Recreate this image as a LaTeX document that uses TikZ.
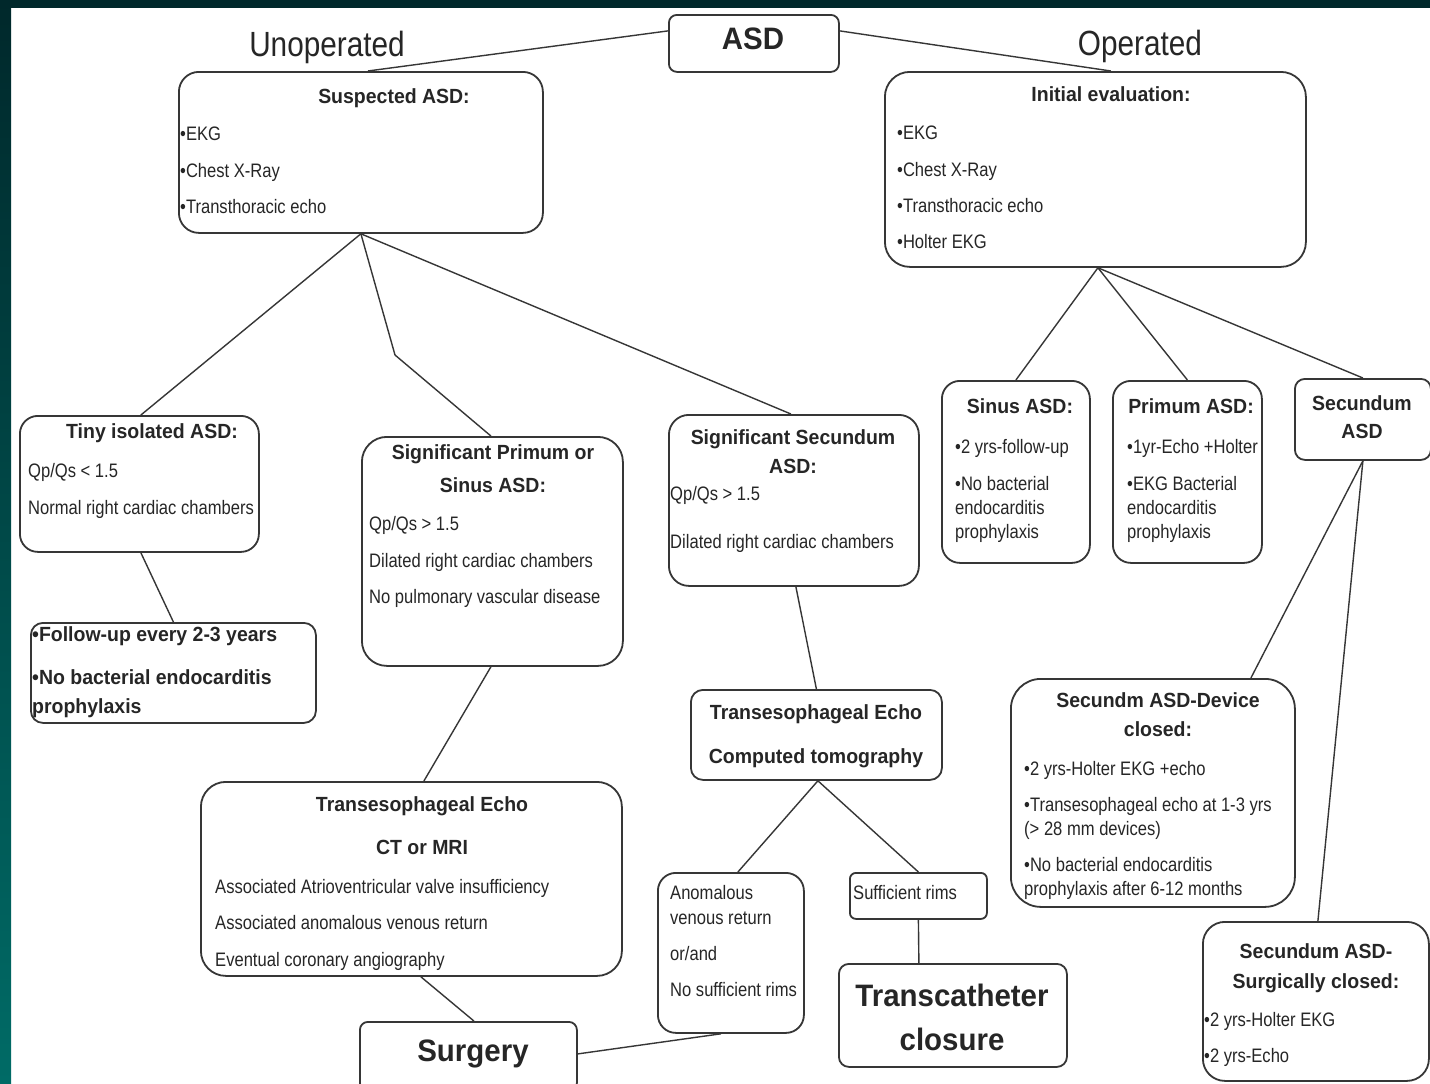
\documentclass[tikz,border=0pt]{standalone}
\usepackage{fontspec}
\newfontfamily\rfont{Liberation Sans}[FakeStretch=0.85]
\newfontfamily\bfont{Liberation Sans}[FakeStretch=0.95]
\usetikzlibrary{calc}
\definecolor{tc}{HTML}{262626}
\definecolor{lc}{HTML}{363636}
\definecolor{darkbg}{HTML}{00282B}
\definecolor{tealbg}{HTML}{006B66}
\begin{document}
\begin{tikzpicture}[x=1pt,y=-1pt,
 rbox/.style={draw=lc, line width=1.8pt, rounded corners=#1, inner sep=0pt, anchor=north west},
 rbox/.default=16pt,
 t/.style={text=tc, inner sep=0pt, font=\rfont\fontsize{19.5}{22}\selectfont, text height=14pt, text depth=0pt, anchor=west},
 h/.style={text=tc, inner sep=0pt, font=\bfont\bfseries\fontsize{20.5}{24}\selectfont, text height=14.7pt, text depth=0pt, anchor=center},
 hb/.style={h, anchor=west},
 big/.style={text=tc, inner sep=0pt, font=\bfont\bfseries\fontsize{31}{36}\selectfont, text height=22.2pt, text depth=0pt, anchor=center},
 side/.style={text=tc, inner sep=0pt, font=\rfont\fontsize{35}{40}\selectfont, text height=25pt, text depth=0pt, anchor=center},
 con/.style={draw=lc, line width=1.4pt}
]
\useasboundingbox (0,0) rectangle (1430,1084);
\clip (0,0) rectangle (1430,1084);
\fill[white] (0,0) rectangle (1430,1084);
\shade[top color=darkbg, bottom color=tealbg] (0,0) rectangle (11,1084);
\fill[darkbg] (0,0) rectangle (1430,8);

% ---------- top
\node[rbox=8pt, minimum width=170pt, minimum height=57pt] (asd) at (668,14) {};
\node[big] (asdT) at (753,38) {ASD};
\node[side] (unop) at (327,44) {Unoperated};
\node[side] (op) at (1140,43) {Operated};

% ---------- Suspected ASD
\node[rbox=20pt, minimum width=364pt, minimum height=161pt] (susp) at (178,71) {};
\node[h] (suspT) at (394,96) {Suspected ASD:};
\node[t] (susp1) at (180,133) {•EKG};
\node[t] (susp2) at (180,170) {•Chest X-Ray};
\node[t] (susp3) at (180,206) {•Transthoracic echo};

% ---------- Initial evaluation
\node[rbox=25pt, minimum width=421pt, minimum height=195pt] (init) at (884,71) {};
\node[h] (initT) at (1111,94) {Initial evaluation:};
\node[t] (init1) at (897,132) {•EKG};
\node[t] (init2) at (897,169) {•Chest X-Ray};
\node[t] (init3) at (897,205) {•Transthoracic echo};
\node[t] (init4) at (897,241) {•Holter EKG};

% ---------- Tiny isolated ASD
\node[rbox=18pt, minimum width=239pt, minimum height=136pt] (tiny) at (19,415) {};
\node[h] (tinyT) at (152,431) {Tiny isolated ASD:};
\node[t] (tiny1) at (28,470) {Qp/Qs < 1.5};
\node[t] (tiny2) at (28,507) {Normal right cardiac chambers};

% ---------- Follow-up
\node[rbox=12pt, minimum width=285pt, minimum height=100pt] (follow) at (30,622) {};
\node[hb] (fol1) at (32,634) {•Follow-up every 2-3 years};
\node[hb] (fol2) at (32,677) {•No bacterial endocarditis};
\node[hb] (fol3) at (32,706) {prophylaxis};

% ---------- Significant Primum or Sinus ASD
\node[rbox=25pt, minimum width=261pt, minimum height=229pt] (sigp) at (361,436) {};
\node[h] (sigpT1) at (493,452) {Significant Primum or};
\node[h] (sigpT2) at (493,485) {Sinus ASD:};
\node[t] (sigp1) at (369,523) {Qp/Qs > 1.5};
\node[t] (sigp2) at (369,560) {Dilated right cardiac chambers};
\node[t] (sigp3) at (369,596) {No pulmonary vascular disease};

% ---------- Significant Secundum ASD
\node[rbox=20pt, minimum width=250pt, minimum height=171pt] (sigs) at (668,414) {};
\node[h] (sigsT1) at (793,437) {Significant Secundum};
\node[h] (sigsT2) at (793,466) {ASD:};
\node[t] (sigs1) at (670,493) {Qp/Qs > 1.5};
\node[t] (sigs2) at (670,541) {Dilated right cardiac chambers};

% ---------- Sinus ASD
\node[rbox=18pt, minimum width=148pt, minimum height=182pt] (sinus) at (941,380) {};
\node[h] (sinusT) at (1020,406) {Sinus ASD:};
\node[t] (sinus1) at (955,446) {•2 yrs-follow-up};
\node[t] (sinus2) at (955,483) {•No bacterial};
\node[t] (sinus3) at (955,507) {endocarditis};
\node[t] (sinus4) at (955,531) {prophylaxis};

% ---------- Primum ASD
\node[rbox=18pt, minimum width=149pt, minimum height=182pt] (prim) at (1112,380) {};
\node[h] (primT) at (1191,406) {Primum ASD:};
\node[t] (prim1) at (1127,446) {•1yr-Echo +Holter};
\node[t] (prim2) at (1127,483) {•EKG Bacterial};
\node[t] (prim3) at (1127,507) {endocarditis};
\node[t] (prim4) at (1127,531) {prophylaxis};

% ---------- Secundum ASD
\node[rbox=10pt, minimum width=136pt, minimum height=81pt] (secasd) at (1294,378) {};
\node[h] (secT1) at (1362,403) {Secundum};
\node[h] (secT2) at (1362,431) {ASD};

% ---------- Device closed
\node[rbox=30pt, minimum width=284pt, minimum height=228pt] (dev) at (1010,678) {};
\node[h] (devT1) at (1158,700) {Secundm ASD-Device};
\node[h] (devT2) at (1158,729) {closed:};
\node[t] (dev1) at (1024,768) {•2 yrs-Holter EKG +echo};
\node[t] (dev2) at (1024,804) {•Transesophageal echo at 1-3 yrs};
\node[t] (dev3) at (1024,828) {(> 28 mm devices)};
\node[t] (dev4) at (1024,864) {•No bacterial endocarditis};
\node[t] (dev5) at (1024,888) {prophylaxis after 6-12 months};

% ---------- Surgically closed
\node[rbox=22pt, minimum width=226pt, minimum height=159pt] (surgc) at (1202,921) {};
\node[h] (surgcT1) at (1316,951) {Secundum ASD-};
\node[h] (surgcT2) at (1316,981) {Surgically closed:};
\node[t] (surgc1) at (1204,1019) {•2 yrs-Holter EKG};
\node[t] (surgc2) at (1204,1055) {•2 yrs-Echo};

% ---------- TEE / Computed tomography
\node[rbox=12pt, minimum width=251pt, minimum height=90pt] (tee) at (690,689) {};
\node[h] (tee1) at (816,712) {Transesophageal Echo};
\node[h] (tee2) at (816,756) {Computed tomography};

% ---------- TEE / CT or MRI
\node[rbox=25pt, minimum width=421pt, minimum height=194pt] (ctmri) at (200,781) {};
\node[h] (ctT1) at (422,804) {Transesophageal Echo};
\node[h] (ctT2) at (422,847) {CT or MRI};
\node[t] (ct1) at (215,886) {Associated Atrioventricular valve insufficiency};
\node[t] (ct2) at (215,922) {Associated anomalous venous return};
\node[t] (ct3) at (215,959) {Eventual coronary angiography};

% ---------- Surgery
\node[rbox=8pt, minimum width=217pt, minimum height=69pt] (surg) at (359,1021) {};
\node[big] (surgT) at (473,1050) {Surgery};

% ---------- Anomalous
\node[rbox=18pt, minimum width=146pt, minimum height=160pt] (anom) at (657,872) {};
\node[t] (anom1) at (670,892) {Anomalous};
\node[t] (anom2) at (670,917) {venous return};
\node[t] (anom3) at (670,953) {or/and};
\node[t] (anom4) at (670,989) {No sufficient rims};

% ---------- Sufficient rims
\node[rbox=6pt, minimum width=137pt, minimum height=46pt] (suff) at (849,872) {};
\node[t] (suffT) at (853,892) {Sufficient rims};

% ---------- Transcatheter closure
\node[rbox=10pt, minimum width=228pt, minimum height=103pt] (trans) at (838,963) {};
\node[big] (trans1) at (952,995) {Transcatheter};
\node[big] (trans2) at (952,1039) {closure};

% ---------- connectors
\coordinate (kink) at (395,355);
\draw[con] ([yshift=12.5pt]asd.west) -- ([xshift=7pt]susp.north);
\draw[con] ([yshift=12.5pt]asd.east) -- ([xshift=15.5pt]init.north);
\draw[con] (susp.south) -- ([xshift=1.5pt]tiny.north);
\draw[con] (susp.south) -- (kink) -- ([xshift=-1.5pt]sigp.north);
\draw[con] (susp.south) -- ([xshift=-3pt]sigs.north);
\draw[con] ([xshift=1.5pt]tiny.south) -- (follow.north);
\draw[con] ([xshift=-1.5pt]sigp.south) -- ([xshift=12.5pt]ctmri.north);
\draw[con] ([xshift=9.5pt]ctmri.south) -- ([xshift=5.5pt]surg.north);
\draw[con] ([xshift=2pt]sigs.south) -- (tee.north);
\draw[con] ([xshift=1.5pt]tee.south) -- ([xshift=7pt]anom.north);
\draw[con] ([xshift=1.5pt]tee.south) -- (suff.north);
\draw[con] (suff.south) -- ([xshift=-34pt]trans.north);
\draw[con] ([yshift=2.5pt]surg.east) -- ([xshift=-10pt]anom.south);
\draw[con] ([xshift=2.5pt]init.south) -- (sinus.north);
\draw[con] ([xshift=2.5pt]init.south) -- (prim.north);
\draw[con] ([xshift=2.5pt]init.south) -- (secasd.north);
\draw[con] (secasd.south) -- ([xshift=98pt]dev.north);
\draw[con] (secasd.south) -- ([xshift=2pt]surgc.north);
\end{tikzpicture}
\end{document}
